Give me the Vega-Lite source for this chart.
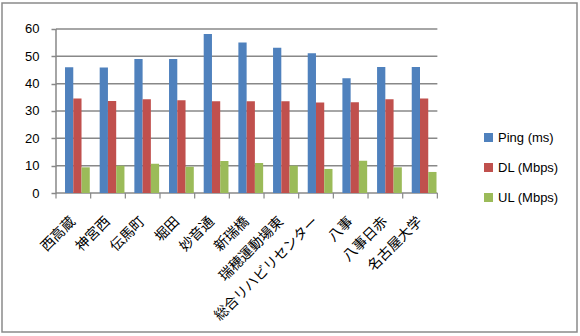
{
  "$schema": "https://vega.github.io/schema/vega-lite/v6.json",
  "width": 575,
  "height": 329,
  "autosize": {"type": "none"},
  "padding": {"left": 2, "top": 3, "right": 3, "bottom": 4},
  "background": "white",
  "config": {
    "view": {"stroke": "#8a8a8a", "strokeWidth": 1.5},
    "font": "Liberation Sans"
  },
  "datasets": {
    "speed": [
      {"station": "西高蔵", "series": "Ping (ms)", "value": 46},
      {"station": "西高蔵", "series": "DL (Mbps)", "value": 34.6},
      {"station": "西高蔵", "series": "UL (Mbps)", "value": 9.4},
      {"station": "神宮西", "series": "Ping (ms)", "value": 45.9},
      {"station": "神宮西", "series": "DL (Mbps)", "value": 33.7},
      {"station": "神宮西", "series": "UL (Mbps)", "value": 10},
      {"station": "伝馬町", "series": "Ping (ms)", "value": 49},
      {"station": "伝馬町", "series": "DL (Mbps)", "value": 34.3},
      {"station": "伝馬町", "series": "UL (Mbps)", "value": 10.7},
      {"station": "堀田", "series": "Ping (ms)", "value": 49},
      {"station": "堀田", "series": "DL (Mbps)", "value": 33.9},
      {"station": "堀田", "series": "UL (Mbps)", "value": 9.6},
      {"station": "妙音通", "series": "Ping (ms)", "value": 58.2},
      {"station": "妙音通", "series": "DL (Mbps)", "value": 33.6},
      {"station": "妙音通", "series": "UL (Mbps)", "value": 11.7},
      {"station": "新瑞橋", "series": "Ping (ms)", "value": 55.1},
      {"station": "新瑞橋", "series": "DL (Mbps)", "value": 33.6},
      {"station": "新瑞橋", "series": "UL (Mbps)", "value": 11},
      {"station": "瑞穂運動場東", "series": "Ping (ms)", "value": 53.1},
      {"station": "瑞穂運動場東", "series": "DL (Mbps)", "value": 33.6},
      {"station": "瑞穂運動場東", "series": "UL (Mbps)", "value": 10},
      {"station": "総合リハビリセンター", "series": "Ping (ms)", "value": 51.1},
      {"station": "総合リハビリセンター", "series": "DL (Mbps)", "value": 33.1},
      {"station": "総合リハビリセンター", "series": "UL (Mbps)", "value": 8.8},
      {"station": "八事", "series": "Ping (ms)", "value": 42},
      {"station": "八事", "series": "DL (Mbps)", "value": 33.2},
      {"station": "八事", "series": "UL (Mbps)", "value": 11.8},
      {"station": "八事日赤", "series": "Ping (ms)", "value": 46.1},
      {"station": "八事日赤", "series": "DL (Mbps)", "value": 34.3},
      {"station": "八事日赤", "series": "UL (Mbps)", "value": 9.4},
      {"station": "名古屋大学", "series": "Ping (ms)", "value": 46.1},
      {"station": "名古屋大学", "series": "DL (Mbps)", "value": 34.6},
      {"station": "名古屋大学", "series": "UL (Mbps)", "value": 7.7}
    ],
    "gridvals": [
      {"g": 0}, {"g": 10}, {"g": 20}, {"g": 30}, {"g": 40}, {"g": 50}, {"g": 60}
    ],
    "bounds": [
      {"b": 0}, {"b": 1}, {"b": 2}, {"b": 3}, {"b": 4}, {"b": 5},
      {"b": 6}, {"b": 7}, {"b": 8}, {"b": 9}, {"b": 10}, {"b": 11}
    ]
  },
  "resolve": {"scale": {"x": "independent"}},
  "layer": [
    {
      "data": {"name": "gridvals"},
      "mark": {"type": "rule", "color": "#888888", "strokeWidth": 1.5},
      "encoding": {
        "y": {"field": "g", "type": "quantitative", "scale": {"domain": [-50.85, 69.51], "nice": false, "zero": false},
              "axis": {"values": [0, 10, 20, 30, 40, 50, 60], "grid": false, "domain": false, "title": null,
                       "offset": -54, "tickSize": 5, "tickColor": "#888888", "tickWidth": 1.5,
                       "labelPadding": 12, "labelFontSize": 13, "labelColor": "#000000", "labelFont": "Liberation Sans"}},
        "x": {"datum": 0, "type": "quantitative", "scale": {"domain": [-1.5575, 15.0275], "nice": false, "zero": false}, "axis": null},
        "x2": {"datum": 11}
      }
    },
    {
      "data": {"name": "bounds"},
      "mark": {"type": "rule", "color": "#888888", "strokeWidth": 1.2},
      "encoding": {
        "x": {"field": "b", "type": "quantitative", "scale": {"domain": [-1.5575, 15.0275], "nice": false, "zero": false}, "axis": null},
        "y": {"datum": 0, "type": "quantitative"},
        "y2": {"datum": -2}
      }
    },
    {
      "data": {"values": [{"axisline": "y"}]},
      "mark": {"type": "rule", "color": "#888888", "strokeWidth": 1.5},
      "encoding": {
        "x": {"datum": 0, "type": "quantitative", "scale": {"domain": [-1.5575, 15.0275], "nice": false, "zero": false}, "axis": null},
        "y": {"datum": 0, "type": "quantitative"},
        "y2": {"datum": 60}
      }
    },
    {
      "data": {"name": "speed"},
      "mark": {"type": "bar"},
      "encoding": {
        "x": {"field": "station", "type": "nominal", "sort": null,
              "scale": {"paddingInner": 0, "paddingOuter": 0, "range": [54, 435.4]},
              "axis": {"title": null, "orient": "bottom", "offset": -139, "domain": false, "ticks": false,
                       "labelAngle": -45, "labelAlign": "right", "labelBaseline": "middle",
                       "labelPadding": 26, "labelFontSize": 14, "labelColor": "#000000",
                       "labelFont": "Noto Sans CJK JP", "labelOverlap": false, "labelLimit": 0}},
        "xOffset": {"field": "series", "type": "nominal", "sort": ["Ping (ms)", "DL (Mbps)", "UL (Mbps)"],
                    "scale": {"paddingInner": 0, "paddingOuter": 0.6, "align": 0.91}},
        "y": {"field": "value", "type": "quantitative", "scale": {"domain": [-50.85, 69.51], "nice": false, "zero": false}},
        "y2": {"datum": 0},
        "color": {"field": "series", "type": "nominal", "sort": ["Ping (ms)", "DL (Mbps)", "UL (Mbps)"],
                  "scale": {"domain": ["Ping (ms)", "DL (Mbps)", "UL (Mbps)"], "range": ["#4F81BD", "#C0504D", "#9BBB59"]},
                  "legend": {"title": null, "orient": "none", "legendX": 480, "legendY": 128, "padding": 0,
                             "symbolType": "square", "symbolSize": 81, "symbolStrokeWidth": 0, "symbolOpacity": 1,
                             "labelFontSize": 13, "labelColor": "#000000", "labelFont": "Liberation Sans",
                             "labelOffset": 3, "rowPadding": 16}}
      }
    }
  ]
}
